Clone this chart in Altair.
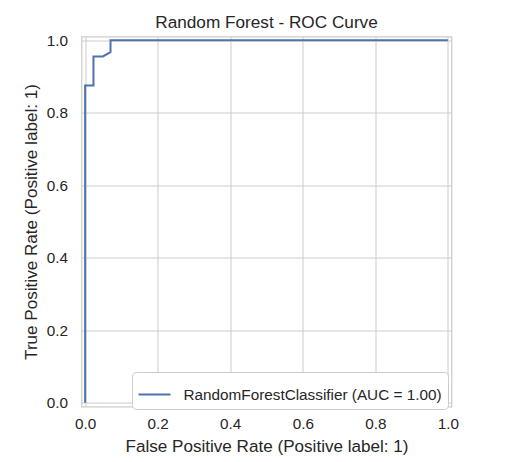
import altair as alt
import pandas as pd

# ROC curve points
fpr = [0.0, 0.0, 0.0, 0.023, 0.023, 0.049, 0.070, 0.070, 1.0]
tpr = [0.0, 0.0, 0.875, 0.875, 0.955, 0.955, 0.967, 1.0, 1.0]
series = "RandomForestClassifier (AUC = 1.00)"
ticks = [0.0, 0.2, 0.4, 0.6, 0.8, 1.0]

df = pd.DataFrame({"fpr": fpr, "tpr": tpr, "order": list(range(len(fpr))),
                   "series": [series] * len(fpr)})

FONT = "Liberation Sans"
TXT = "#262626"
GRID = "#cccccc"

chart = alt.Chart(df).mark_line(strokeWidth=2).encode(
    x=alt.X("fpr:Q",
            scale=alt.Scale(domain=[-0.01, 1.01], nice=False, zero=False),
            axis=alt.Axis(values=ticks, format=".1f",
                          title="False Positive Rate (Positive label: 1)")),
    y=alt.Y("tpr:Q",
            scale=alt.Scale(domain=[-0.01, 1.01], nice=False, zero=False),
            axis=alt.Axis(values=ticks, format=".1f",
                          title="True Positive Rate (Positive label: 1)")),
    order="order:Q",
    color=alt.Color("series:N",
                    scale=alt.Scale(range=["#4c72b0"]),
                    legend=alt.Legend(title=None, orient="none",
                                      legendX=50.5, legendY=335.5,
                                      symbolType="stroke", symbolSize=1024,
                                      symbolStrokeWidth=2,
                                      labelFontSize=15.3, labelFont=FONT,
                                      labelColor=TXT, labelOffset=12,
                                      labelLimit=500,
                                      padding=5.5, strokeColor=GRID,
                                      fillColor="white", cornerRadius=4)),
).properties(
    width=370, height=370,
    title=alt.TitleParams("Random Forest - ROC Curve", fontSize=17.2,
                          font=FONT, color=TXT, fontWeight="normal",
                          offset=2),
    autosize=alt.AutoSizeParams(type="none"),
    padding={"left": 73.5, "top": 28.5, "right": 40, "bottom": 50},
).configure_view(
    stroke=GRID, strokeWidth=1.25
).configure_axis(
    grid=True, gridColor=GRID, gridWidth=1,
    domain=False, ticks=False,
    labelFont=FONT, labelFontSize=15.3, labelColor=TXT,
    titleFont=FONT, titleFontSize=17.1, titleColor=TXT, titleFontWeight="normal",
).configure_axisX(
    labelPadding=10, titlePadding=6,
).configure_axisY(
    labelPadding=14, titlePadding=6,
)

chart.save("out.html", embed_options={"renderer": "svg", "actions": False})
